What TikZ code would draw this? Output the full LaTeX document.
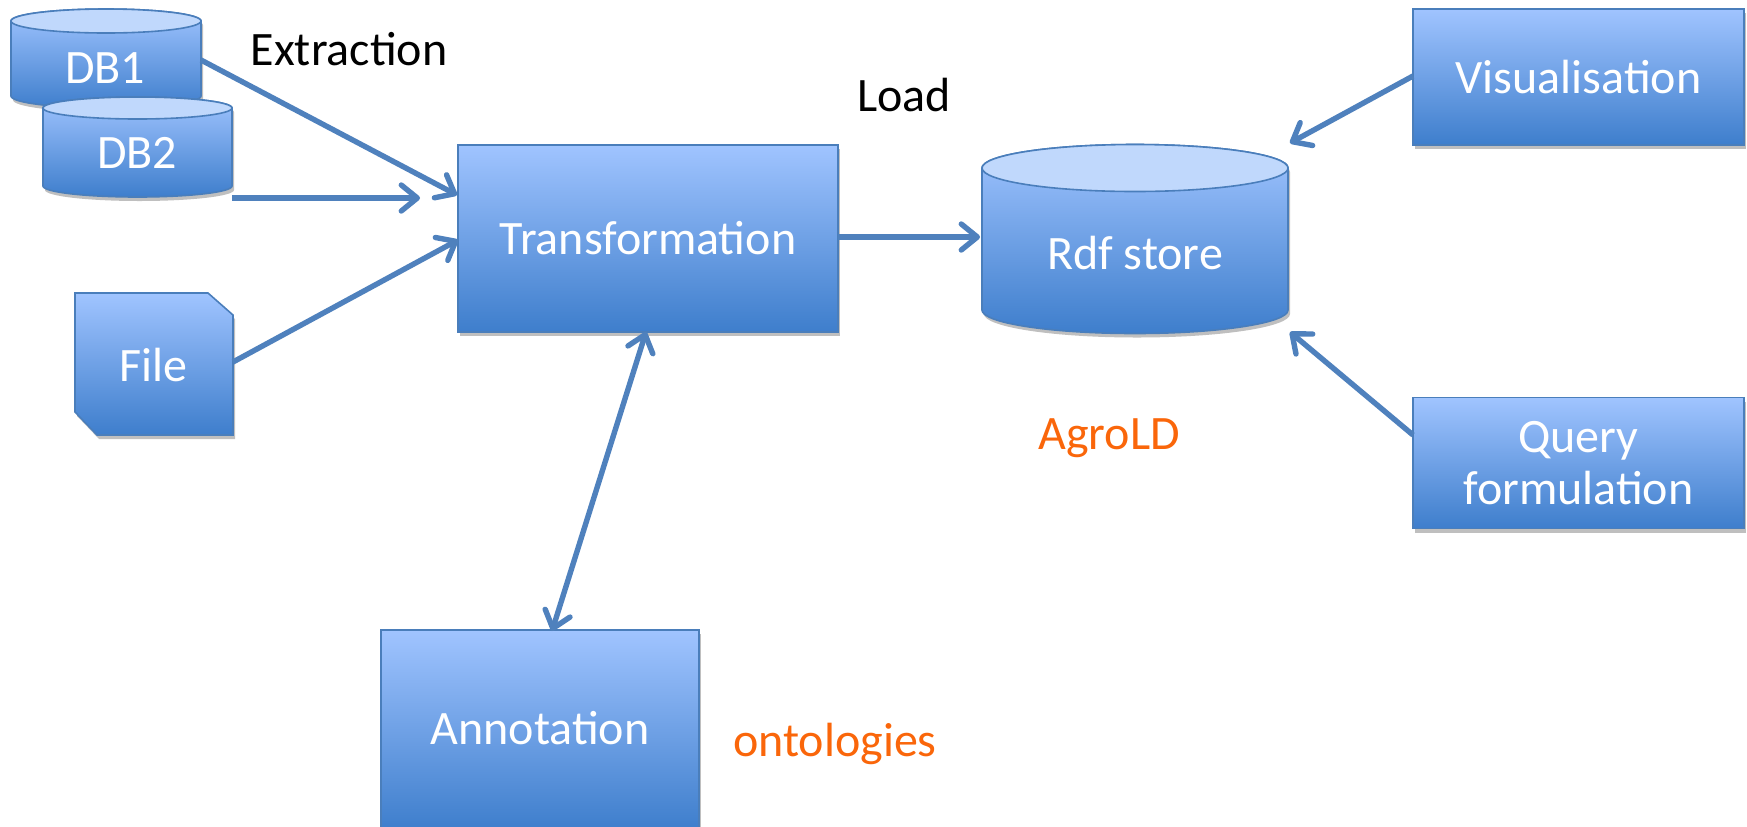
\documentclass[tikz,border=0pt]{standalone}
\usepackage{fontspec}
\setmainfont{Carlito}
\usetikzlibrary{arrows.meta,shadows}
\definecolor{boxtop}{RGB}{160,196,255}
\definecolor{boxbot}{RGB}{62,126,204}
\definecolor{boxline}{RGB}{74,126,187}
\definecolor{cyltopfill}{RGB}{192,216,252}
\definecolor{arrowcol}{RGB}{79,129,189}
\definecolor{orangetxt}{RGB}{250,102,10}
\newcommand\mycyl[5]{%
  \path[cylbody] (#1,#3) -- (#1,#4) arc[start angle=180,end angle=0,x radius={(#2-#1)/2},y radius=#5]
    -- (#2,#3) arc[start angle=0,end angle=-180,x radius={(#2-#1)/2},y radius=#5] -- cycle;
  \path[cyltopst] ({(#1+#2)/2},#3) ellipse[x radius={(#2-#1)/2},y radius=#5];
}
\tikzset{
  shadowed/.style={drop shadow={shadow xshift=1pt,shadow yshift=-2pt,opacity=0.25,fill=black}},
  bluebox/.style={shadowed,draw=boxline,line width=0.8pt,top color=boxtop,bottom color=boxbot,
    text=white,font=\fontsize{24}{28}\selectfont,align=center,inner sep=0pt},
  cylbody/.style={shadowed,draw=boxline,line width=0.8pt,top color=boxtop,bottom color=boxbot},
  cyltopst/.style={draw=boxline,line width=0.8pt,fill=cyltopfill},
  wlabel/.style={text=white,font=\fontsize{24}{28}\selectfont,inner sep=0pt},
  blabel/.style={text=black,font=\fontsize{24}{28}\selectfont,inner sep=0pt},
  olabel/.style={text=orangetxt,font=\fontsize{24}{28}\selectfont,inner sep=0pt},
  tip/.tip={Straight Barb[length=8pt,width=13pt,line width=2.7pt,round]},
  conn/.style={draw=arrowcol,line width=2.7pt,-tip},
  bconn/.style={draw=arrowcol,line width=2.7pt,tip-tip},
}
\begin{document}
\begin{tikzpicture}[x=0.5pt,y=-0.5pt]
\useasboundingbox (0,0) rectangle (1747,826);
\fill[white] (0,0) rectangle (1747,826);
% cylinders
\mycyl{11}{201}{21}{96}{12}
\node[wlabel] (db1) at (105,68) {DB1};
\mycyl{43}{232}{108}{186}{11}
\node[wlabel] (db2) at (137,153) {DB2};
\mycyl{982}{1288}{168}{310}{23.5}
\node[wlabel] (rdf) at (1135,253) {Rdf store};
% file
\path[shadowed,draw=boxline,line width=0.8pt,top color=boxtop,bottom color=boxbot]
  (75,293) -- (208,293) -- (233,315) -- (233,435) -- (97,435) -- (75,412) -- cycle;
\node[wlabel] (file) at (153,365) {File};
% boxes
\node[bluebox,minimum width=190pt,minimum height=93.5pt] (trans) at (648,238.5) {Transformation};
\node[bluebox,minimum width=165.5pt,minimum height=68pt] (vis) at (1578.5,77) {Visualisation};
\node[bluebox,minimum width=165.5pt,minimum height=65.5pt] (query) at (1578.5,463) {Query\\[-2pt]formulation};
\node[bluebox,minimum width=159pt,minimum height=100pt,text depth=0pt] (annot) at (540,730) {};
\node[wlabel] (annottxt) at (540,728) {Annotation};
% labels
\node[blabel] (extr) at (349,49) {Extraction};
\node[blabel] (load) at (904,95) {Load};
\node[olabel] (agrold) at (1109,438) {AgroLD};
\node[olabel] (onto) at (835,744) {ontologies};
% connector points
\coordinate (db1e) at (201,60);
\coordinate (t1) at (457,195);
\coordinate (db2e) at (232,198);
\coordinate (db2end) at (420,198);
\coordinate (filee) at (233,362);
\coordinate (t2) at (458,240);
\coordinate (t3) at (838,237);
\coordinate (r1) at (980,237);
\coordinate (v1) at (1413,76);
\coordinate (r2) at (1290,143);
\coordinate (q1) at (1413,435);
\coordinate (r3) at (1290,332);
\coordinate (t4) at (646,332);
\coordinate (a1) at (552,631);
\draw[conn] (db1e) -- (t1);
\draw[conn] (db2e) -- (db2end);
\draw[conn] (filee) -- (t2);
\draw[conn] (t3) -- (r1);
\draw[conn] (v1) -- (r2);
\draw[conn] (q1) -- (r3);
\draw[bconn] (t4) -- (a1);
\end{tikzpicture}
\end{document}
